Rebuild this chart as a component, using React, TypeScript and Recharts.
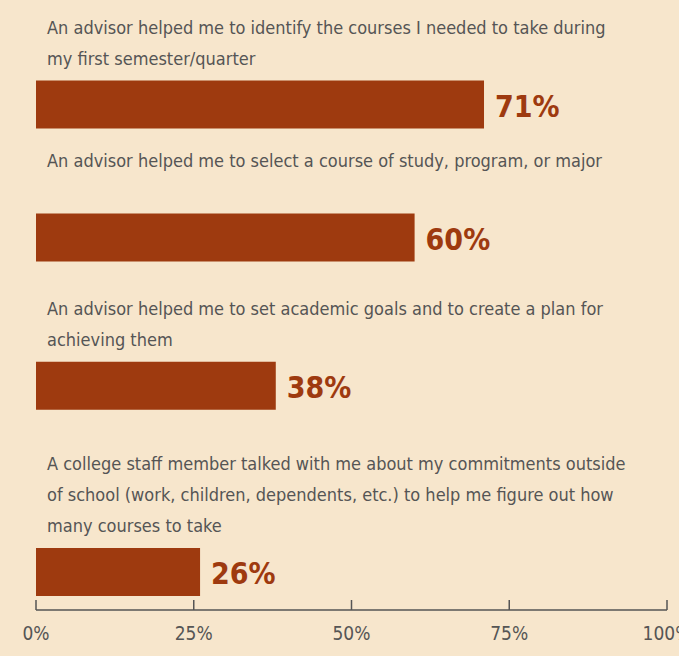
import React from 'react';
import { BarChart, Bar, XAxis, YAxis, LabelList } from 'recharts';

// statement text, one entry per wrapped line
const statements: string[][] = [
  ['An advisor helped me to identify the courses I needed to take during', 'my first semester/quarter'],
  ['An advisor helped me to select a course of study, program, or major'],
  ['An advisor helped me to set academic goals and to create a plan for', 'achieving them'],
  [
    'A college staff member talked with me about my commitments outside',
    'of school (work, children, dependents, etc.) to help me figure out how',
    'many courses to take',
  ],
];
const percents = [71, 60, 38, 26];
const xTicks = [0, 25, 50, 75, 100];

const BG = '#F7E6CC';
const BAR = '#9E3A0F';
const GREY = '#555555';
const FONT = '"Liberation Sans Narrow", "DejaVu Sans Condensed", Arial, sans-serif';

// each row takes room for its label lines plus the bar
const data: { pos: number; value: number }[] = [];
let cursor = -1.45;
statements.forEach((lines, i) => {
  cursor += Math.max(1.6, lines.length) + 1.9;
  data.push({ pos: cursor, value: percents[i] });
});

const RowLabel = (props: any) => {
  const vb = props.viewBox || props;
  const { x, y, width, height } = vb;
  const lines = statements[props.index] || [];
  const reserve = Math.max(2, lines.length);
  return (
    <g>
      {lines.map((t, k) => (
        <text
          key={k}
          x={x + 11}
          y={y - 22 - (reserve - 1 - k) * 31}
          dominantBaseline="central"
          fill={GREY}
          fontSize={18}
          fontFamily={FONT}
        >
          {t}
        </text>
      ))}
      <text
        x={x + width + 11}
        y={y + height / 2 + 2}
        dominantBaseline="central"
        fill={BAR}
        fontSize={30}
        fontWeight="bold"
        fontFamily={FONT}
      >
        {props.value}%
      </text>
    </g>
  );
};

const PercentTick = (props: any) => {
  const { x, y, payload } = props;
  return (
    <g>
      <line x1={x} x2={x} y1={y - 10} y2={y} stroke={GREY} strokeWidth={1.5} />
      <text
        x={x}
        y={y + 23}
        textAnchor="middle"
        dominantBaseline="central"
        fill={GREY}
        fontSize={19}
        fontFamily={FONT}
      >
        {payload.value}%
      </text>
    </g>
  );
};

export default function App() {
  return (
    <div style={{ position: 'fixed', inset: 0, background: BG }}>
      <BarChart
        width={679}
        height={656}
        data={data}
        layout="vertical"
        margin={{ top: 12, right: 12, bottom: 6, left: 36 }}
      >
        <XAxis
          type="number"
          domain={[0, 100]}
          ticks={xTicks}
          tickSize={0}
          tickMargin={0}
          tickLine={false}
          axisLine={{ stroke: GREY, strokeWidth: 1.5 }}
          tick={<PercentTick />}
          height={40}
          interval={0}
        />
        <YAxis
          type="number"
          dataKey="pos"
          domain={[0, 15.74]}
          allowDataOverflow
          tick={false}
          tickLine={false}
          axisLine={{ stroke: GREY, strokeWidth: 1.5 }}
          width={0}
        />
        <Bar dataKey="value" fill={BAR} barSize={48} isAnimationActive={false}>
          <LabelList dataKey="value" content={<RowLabel />} />
        </Bar>
      </BarChart>
    </div>
  );
}
